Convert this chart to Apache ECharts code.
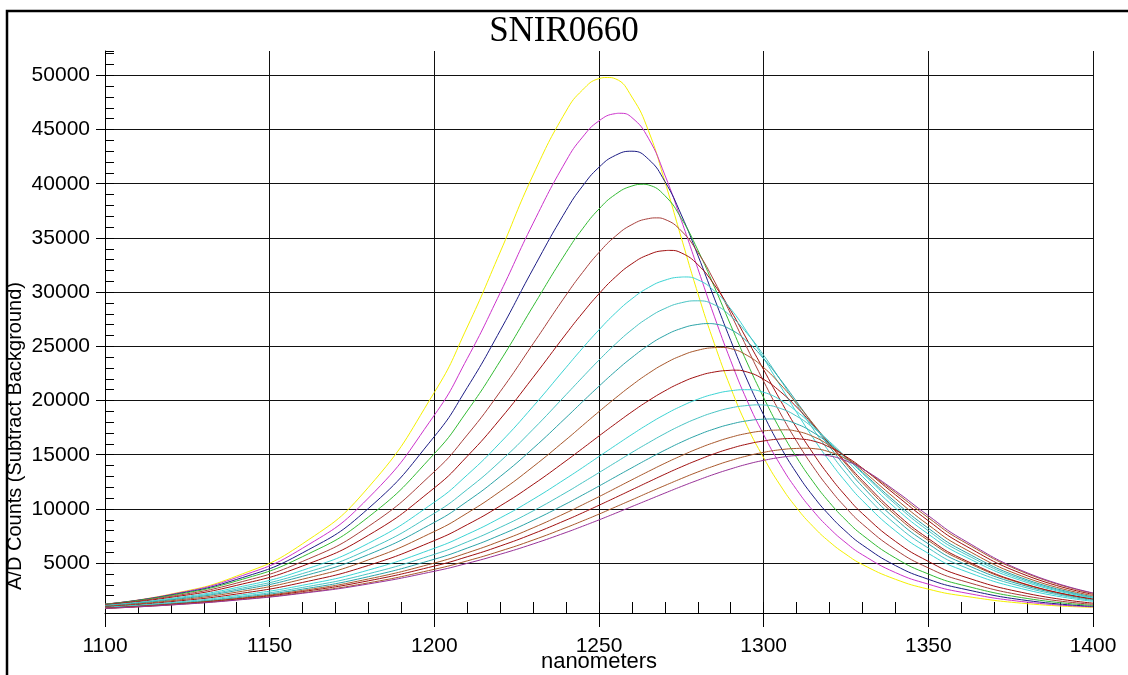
<!DOCTYPE html>
<html>
<head>
<meta charset="utf-8">
<title>SNIR0660</title>
<script src="https://cdn.jsdelivr.net/npm/echarts@6/dist/echarts.min.js"></script>
<style>
  html, body { margin: 0; padding: 0; background: #ffffff; }
  #chart { width: 1128px; height: 675px; }
</style>
</head>
<body>
<div id="chart"></div>
<script>
// Wavelength sample points (nm), shared by every scan
const wavelengths = [1100,1120,1140,1160,1180,1200,1210,1220,1230,1240,1245,1250,1255,1260,1265,1270,1275,1280,1285,1290,1295,1300,1305,1310,1315,1320,1325,1330,1340,1350,1360,1380,1400];

// A/D counts (background subtracted) for each scan, in acquisition order
const scan01 = [1200,2140,3810,6790,12000,20750,26780,33700,40810,46700,48650,49700,49680,48000,44900,40200,35000,29900,25270,21170,17610,14720,12200,10100,8380,6960,5810,4870,3510,2600,2000,1260,920];
const scan02 = [1210,2110,3670,6380,11010,18650,23880,29940,36360,42110,44300,45800,46470,46100,44200,40800,36620,32180,27780,23670,19970,16850,14100,11780,9830,8210,6870,5770,4130,3060,2320,1400,970];
const scan03 = [1210,2060,3500,5950,10050,16680,21200,26460,32150,37530,39780,41520,42620,43000,42270,40210,37120,33410,29450,25540,21890,18670,15790,13310,11190,9410,7910,6670,4780,3510,2660,1550,1020];
const scan04 = [1210,2020,3360,5600,9260,15100,19040,23650,28700,33650,35840,37670,39020,39790,39890,38900,36800,33890,30510,26950,23470,20270,17340,14760,12520,10590,8960,7590,5470,4000,3000,1740,1100];
const scan05 = [1180,1930,3160,5160,8390,13440,16830,20820,25240,29730,31810,33660,35160,36230,36780,36710,35650,33670,31030,27990,24830,21770,18870,16240,13900,11860,10100,8600,6240,4560,3400,1950,1200];
const scan06 = [1140,1840,2950,4740,7570,11940,14860,18290,22140,26150,28070,29850,31400,32620,33450,33830,33620,32540,30690,28300,25590,22840,20060,17480,15130,13020,11180,9570,7010,5160,3830,2200,1310];
const scan07 = [1100,1740,2750,4340,6830,10620,13140,16110,19460,23050,24830,26520,28070,29390,30420,31100,31390,31140,30120,28450,26300,23900,21380,18910,16560,14410,12480,10770,7980,5900,4390,2520,1470];
const scan08 = [1070,1670,2600,4040,6260,9600,11800,14390,17350,20540,22150,23730,25210,26540,27650,28490,29020,29200,28840,27790,26180,24180,21940,19640,17380,15250,13290,11530,8600,6390,4750,2710,1560];
const scan09 = [1050,1610,2470,3790,5790,8760,10700,12990,15590,18430,19890,21320,22700,23970,25090,26000,26650,27020,27070,26550,25440,23860,21970,19900,17790,15750,13830,12070,9080,6780,5050,2860,1640];
const scan10 = [1010,1530,2320,3520,5300,7920,9620,11620,13900,16390,17690,18980,20230,21420,22500,23420,24140,24640,24880,24790,24160,23040,21520,19750,17870,15970,14130,12410,9430,7090,5300,2980,1700];
const scan11 = [960,1440,2150,3220,4790,7080,8550,10280,12260,14440,15580,16730,17860,18960,19980,20890,21660,22250,22630,22790,22630,21950,20840,19400,17750,16010,14270,12610,9650,7270,5430,3020,1700];
const scan12 = [920,1360,2010,2960,4360,6370,7660,9170,10890,12810,13810,14840,15860,16870,17830,18710,19480,20120,20600,20900,21000,20760,20070,19000,17660,16140,14560,12990,10090,7680,5770,3210,1790];
const scan13 = [890,1290,1890,2760,4020,5810,6960,8300,9820,11520,12430,13350,14280,15210,16100,16950,17720,18380,18920,19320,19540,19590,19280,18560,17500,16210,14770,13290,10450,7990,6020,3340,1830];
const scan14 = [860,1250,1800,2600,3750,5360,6390,7590,8950,10470,11280,12110,12960,13800,14630,15420,16160,16820,17380,17820,18130,18280,18250,17840,17060,16000,14740,13380,10650,8220,6220,3460,1900];
const scan15 = [850,1210,1730,2480,3540,5010,5950,7030,8260,9640,10380,11130,11910,12690,13460,14210,14910,15560,16130,16610,16970,17200,17290,17170,16680,15850,14780,13550,10950,8530,6490,3630,2000];
const scan16 = [840,1190,1680,2380,3370,4730,5590,6580,7710,8970,9640,10340,11050,11770,12490,13200,13880,14510,15090,15580,15980,16270,16450,16490,16270,15700,14830,13760,11310,8910,6820,3840,2120];
const scan17 = [820,1150,1620,2270,3180,4430,5210,6110,7130,8280,8890,9520,10180,10840,11510,12160,12800,13410,13970,14470,14890,15220,15460,15580,15570,15260,14620,13730,11520,9190,7100,4030,2220];
const scan18 = [820,1140,1590,2220,3080,4250,4980,5820,6770,7830,8400,8990,9600,10220,10840,11460,12070,12650,13200,13690,14130,14480,14750,14930,14990,14890,14440,13710,11670,9380,7260,4110,2250];

const scans = [scan01, scan02, scan03, scan04, scan05, scan06, scan07, scan08, scan09,
               scan10, scan11, scan12, scan13, scan14, scan15, scan16, scan17, scan18];

// Peak of each scan: wavelength (nm) and A/D counts at the maximum
const peakWavelengths = [1252.5, 1256.3, 1260, 1263.5, 1267.5, 1271.5, 1276, 1280, 1283.5,
                         1287, 1291, 1295, 1299, 1302.5, 1306, 1309.5, 1313, 1316];
const peakCounts = [49800, 46500, 43000, 39950, 36850, 33850, 31400, 29200, 27100,
                    24900, 22800, 21000, 19600, 18300, 17300, 16500, 15600, 15000];

// Trace colours, one per scan
const lineColors = ['#F5F000', '#CC33CC', '#1C1C84', '#33BB33', '#A8403C', '#A01010',
                    '#3CD4D4', '#48C4C4', '#2CA4A8', '#A8582C', '#A01010', '#3CD4D4',
                    '#48C4C4', '#2CA4A8', '#A8582C', '#A01010', '#A8582C', '#993399'];

// Axis ranges and labelled ticks
const xRange = [1100, 1400];
const yRange = [400, 52245];
const yTickValues = [5000, 10000, 15000, 20000, 25000, 30000, 35000, 40000, 45000, 50000];

const chartTitle = 'SNIR0660';
const xName = 'nanometers';
const yName = 'A/D Counts (Subtract Background)';

const sans = "'Liberation Sans', Arial, Helvetica, sans-serif";
const serif = "'Liberation Serif', 'Times New Roman', serif";
const ink = '#000000';

// Sampled points of one scan plus its peak reading, ordered by wavelength
function scanPoints(vals, i) {
  const pts = wavelengths.map((w, j) => [w, vals[j]]);
  if (!wavelengths.includes(peakWavelengths[i])) {
    pts.push([peakWavelengths[i], peakCounts[i]]);
    pts.sort((a, b) => a[0] - b[0]);
  }
  return pts;
}

const chart = echarts.init(document.getElementById('chart'), null, { renderer: 'canvas' });

const series = scans.map((vals, i) => ({
  type: 'line',
  name: 'scan ' + (i + 1),
  xAxisIndex: 0,
  yAxisIndex: 0,
  data: scanPoints(vals, i),
  smooth: true,
  showSymbol: false,
  symbol: 'none',
  lineStyle: { width: 1, color: lineColors[i] },
  itemStyle: { color: lineColors[i] },
  emphasis: { disabled: true },
  z: 3
}));

const option = {
  animation: false,
  backgroundColor: '#ffffff',
  title: {
    text: chartTitle,
    left: 'center',
    top: 14,
    padding: 0,
    textStyle: { fontFamily: serif, fontSize: 35, fontWeight: 'normal', color: ink }
  },
  grid: { left: 105, right: 35, top: 51, bottom: 62, containLabel: false, outerBoundsMode: 'none' },
  xAxis: [
    {
      type: 'value',
      min: xRange[0],
      max: xRange[1],
      interval: 50,
      position: 'bottom',
      axisLine: { show: true, onZero: false, lineStyle: { color: ink, width: 1 } },
      axisTick: { show: true, inside: false, length: 14, lineStyle: { color: ink, width: 1 } },
      axisLabel: { color: ink, fontFamily: sans, fontSize: 21, margin: 23, formatter: v => String(v) },
      splitLine: { show: true, lineStyle: { color: '#111111', width: 1 } },
      name: xName,
      nameLocation: 'middle',
      nameGap: 38,
      nameMoveOverlap: false,
      nameTextStyle: { color: ink, fontFamily: sans, fontSize: 22 }
    },
    {
      // minor ticks every 10 nm, pointing into the plot
      type: 'value',
      min: xRange[0],
      max: xRange[1],
      interval: 10,
      position: 'bottom',
      axisLine: { show: false },
      axisTick: { show: true, inside: true, length: 11, lineStyle: { color: ink, width: 1 } },
      axisLabel: { show: false },
      splitLine: { show: false }
    }
  ],
  yAxis: [
    {
      type: 'value',
      min: yRange[0],
      max: yRange[1],
      splitNumber: 10,
      position: 'left',
      axisLine: { show: true, onZero: false, lineStyle: { color: ink, width: 1 } },
      axisTick: { show: true, inside: false, length: 9, customValues: yTickValues, lineStyle: { color: ink, width: 1 } },
      axisLabel: {
        customValues: yTickValues,
        color: ink, fontFamily: sans, fontSize: 21, margin: 15,
        formatter: v => (v % 5000 === 0 ? String(v) : '')
      },
      splitLine: { show: true, lineStyle: { color: '#111111', width: 1 } }
    },
    {
      // minor ticks every 1000 counts, pointing into the plot
      type: 'value',
      min: yRange[0],
      max: yRange[1],
      splitNumber: 52,
      position: 'left',
      axisLine: { show: false },
      axisTick: { show: true, inside: true, length: 9, lineStyle: { color: ink, width: 1 } },
      axisLabel: { show: false },
      splitLine: { show: false }
    }
  ],
  graphic: [
    {
      type: 'rect',
      silent: true,
      shape: { x: 7, y: 11, width: 1200, height: 700 },
      style: { fill: 'rgba(0,0,0,0)', stroke: ink, lineWidth: 2.5 }
    },
    {
      type: 'text',
      silent: true,
      x: 15,
      y: 436,
      rotation: Math.PI / 2,
      style: {
        text: yName,
        fill: ink,
        fontFamily: sans,
        fontSize: 20,
        align: 'center',
        verticalAlign: 'middle'
      }
    }
  ],
  series: series
};

chart.setOption(option);
</script>
</body>
</html>
